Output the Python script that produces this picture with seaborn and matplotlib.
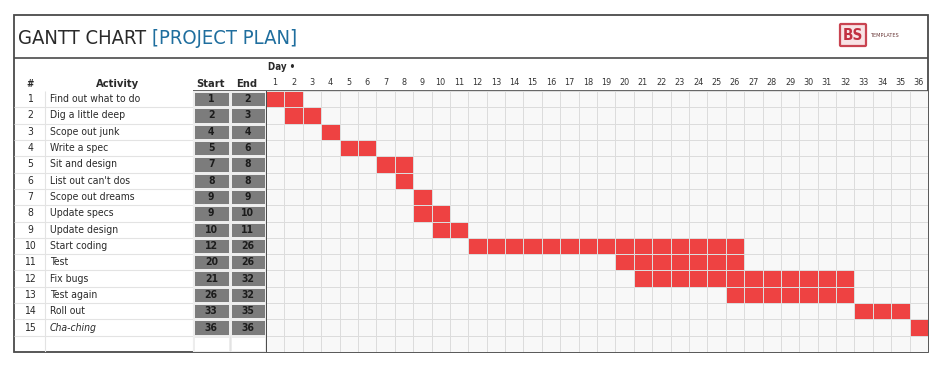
import numpy as np
import matplotlib.pyplot as plt
import seaborn as sns
from matplotlib.colors import ListedColormap
from matplotlib.patches import Rectangle, FancyBboxPatch

# task table
task_ids = list(range(1, 16))
activities = ['Find out what to do', 'Dig a little deep', 'Scope out junk', 'Write a spec',
              'Sit and design', "List out can't dos", 'Scope out dreams', 'Update specs',
              'Update design', 'Start coding', 'Test', 'Fix bugs', 'Test again', 'Roll out',
              'Cha-ching']
start_days = [1, 2, 4, 5, 7, 8, 9, 9, 10, 12, 20, 21, 26, 33, 36]
end_days = [2, 3, 4, 6, 8, 8, 9, 10, 11, 26, 26, 32, 32, 35, 36]
days = list(range(1, 37))

n_rows = len(task_ids) + 1  # one blank row at the bottom

# day grid: 1 where the task is running
grid = np.zeros((n_rows, len(days)))
for i, (s, e) in enumerate(zip(start_days, end_days)):
    for j, d in enumerate(days):
        if s <= d <= e:
            grid[i, j] = 1

se = np.full((n_rows, 2), np.nan)
se[:len(task_ids), 0] = start_days
se[:len(task_ids), 1] = end_days

sns.set_theme(style='white')
plt.rcParams['font.family'] = ['DejaVu Sans']
plt.rcParams['font.stretch'] = 'condensed'

W, H = 948, 376
fig = plt.figure(figsize=(W / 100, H / 100), dpi=100)


def frac(x0, y0, x1, y1):
    return [x0 / W, 1 - y1 / H, (x1 - x0) / W, (y1 - y0) / H]


dark = '#4a4a4a'
txt = '#2a2a2a'

# background: frame, title, headers
bg = fig.add_axes([0, 0, 1, 1])
bg.set_xlim(0, W)
bg.set_ylim(H, 0)
bg.axis('off')
bg.add_patch(Rectangle((14, 15), 914, 337, fill=False, ec=dark, lw=1.3))
bg.hlines(58, 14, 928, color=dark, lw=1.2)
bg.hlines(91, 193, 928, color=dark, lw=1.2)
bg.text(18, 38, 'GANTT CHART', fontsize=14.5, color=txt, va='center')
bg.text(152, 38, '[PROJECT PLAN]', fontsize=14.5, color='#1f6e9e', va='center')
bg.add_patch(FancyBboxPatch((841, 25), 24, 20, boxstyle='round,pad=1',
                            fc='#f8e3e5', ec='#c94451', lw=1.6))
bg.text(853, 35.5, 'BS', fontsize=11, fontweight='bold', color='#c23040',
        ha='center', va='center')
bg.text(870, 35.5, 'TEMPLATES', fontsize=4, color='#6b3a3a', va='center')
bg.text(268, 67, 'Day \u2022', fontsize=7, fontweight='bold', color=txt, va='center')
bg.text(30, 84, '#', fontsize=7, fontweight='bold', color=txt, ha='center', va='center')
bg.text(118, 84, 'Activity', fontsize=8, fontweight='bold', color=txt, ha='center', va='center')
bg.text(211, 84, 'Start', fontsize=8, fontweight='bold', color=txt, ha='center', va='center')
bg.text(247, 84, 'End', fontsize=8, fontweight='bold', color=txt, ha='center', va='center')

# left table: number + activity
tbl = fig.add_axes(frac(14, 91, 193, 352))
tbl.set_xlim(14, 193)
tbl.set_ylim(n_rows, 0)
tbl.axis('off')
tbl.hlines(range(1, n_rows), 14, 193, color='#e3e3e3', lw=0.8)
tbl.vlines([45, 192.5], 0, n_rows, color='#e3e3e3', lw=0.8)
for i, (k, act) in enumerate(zip(task_ids, activities)):
    tbl.text(30, i + 0.5, str(k), fontsize=7.5, color=txt, ha='center', va='center')
    tbl.text(50, i + 0.5, act, fontsize=7.5, color=txt, va='center',
             style='italic' if k == task_ids[-1] else 'normal')

# start / end columns
ax_se = fig.add_axes(frac(193, 91, 266, 352))
sns.heatmap(se, ax=ax_se, cmap=ListedColormap(['#7c7c7c']), annot=True, fmt='.0f',
            annot_kws={'fontsize': 7.5, 'color': '#1c1c1c', 'fontweight': 'bold'},
            cbar=False, linewidths=1.0, linecolor='#ededed',
            xticklabels=False, yticklabels=False)
ax_se.vlines(1, n_rows - 1, n_rows, color='#e3e3e3', lw=0.8)

# day grid
ax_g = fig.add_axes(frac(266, 91, 928, 352))
sns.heatmap(grid, ax=ax_g, cmap=ListedColormap(['#f8f8f8', '#ee4242']), vmin=0, vmax=1,
            cbar=False, linewidths=0.5, linecolor='#dcdcdc',
            xticklabels=days, yticklabels=False)
ax_g.xaxis.tick_top()
ax_g.tick_params(axis='x', length=0, pad=3, labelsize=6.5, labelcolor='#333333',
                 labelrotation=0)
ax_g.axvline(0, color=dark, lw=1.4)

fig.savefig('out.png', dpi=100)
